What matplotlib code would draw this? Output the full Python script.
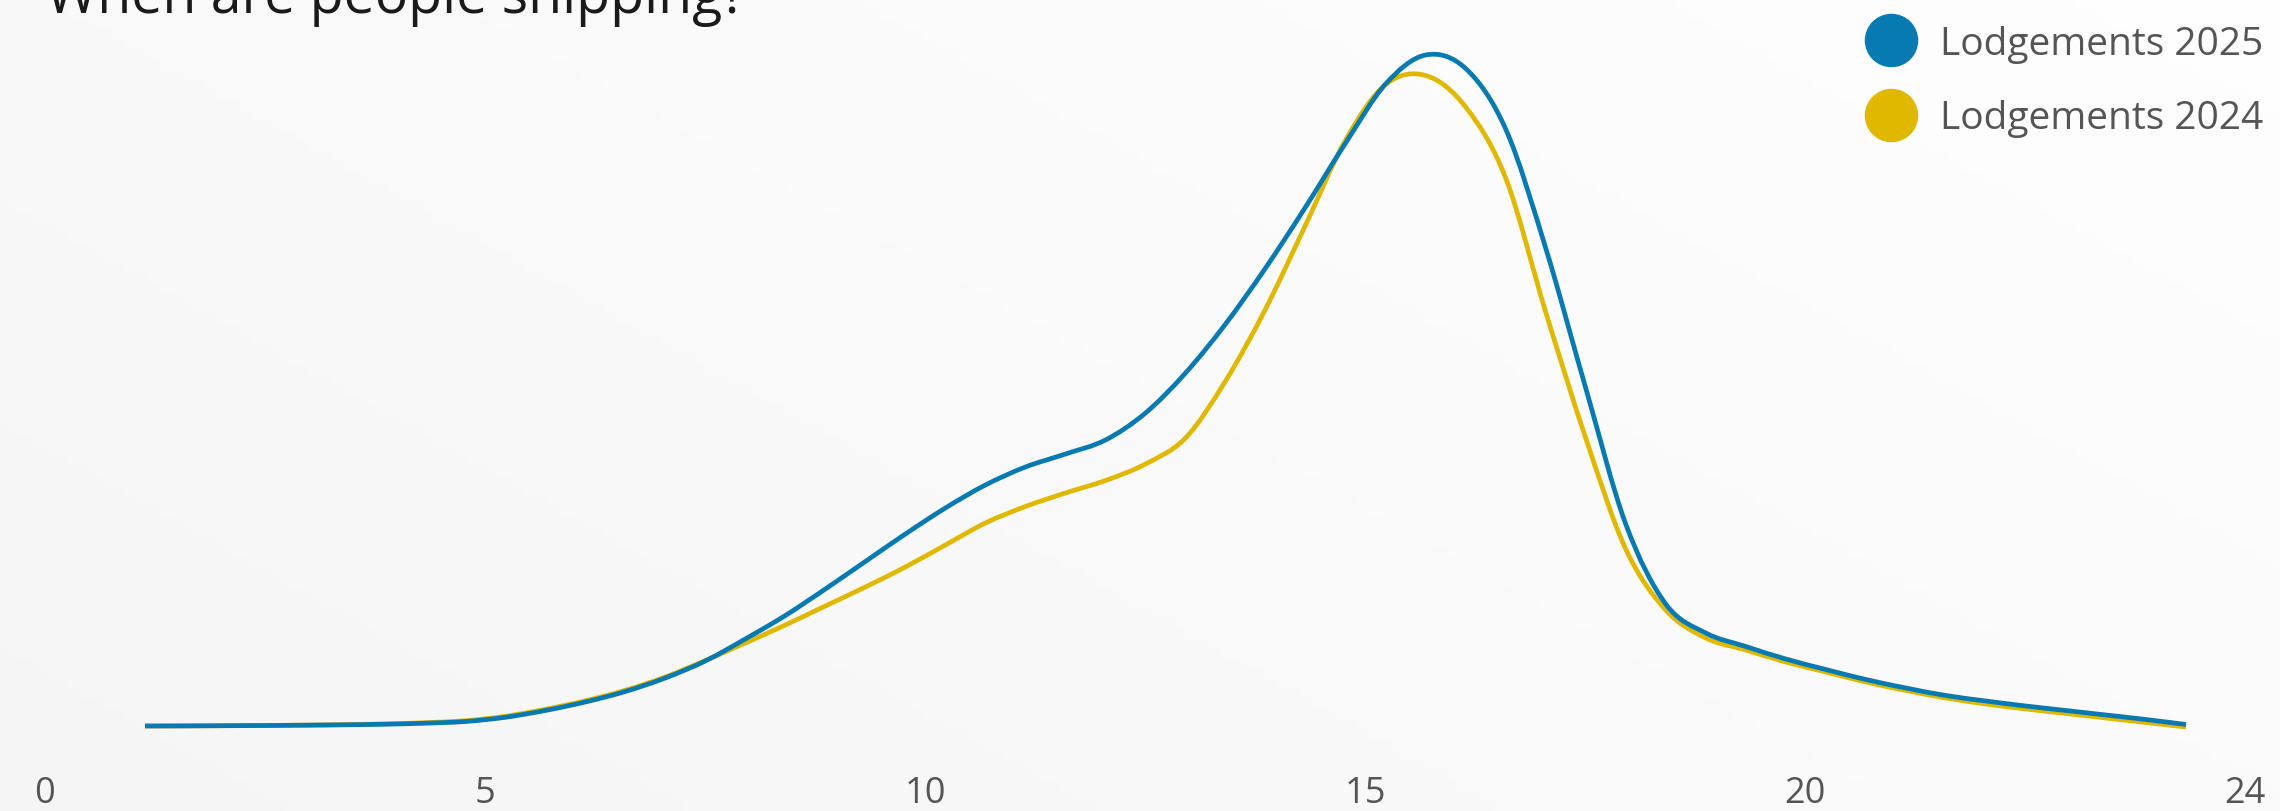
import numpy as np
import matplotlib
matplotlib.use("Agg")
import matplotlib.pyplot as plt
from matplotlib.path import Path
from matplotlib.patches import PathPatch

# Lodgement volumes (thousands) for the 52 sampling slots across the day
SLOTS = list(range(52))
LODGEMENTS_2025 = [0.30, 0.31, 0.33, 0.35, 0.38, 0.42, 0.48, 0.58, 0.75, 1.17,
                   1.85, 2.70, 3.75, 5.10, 6.80, 9.00, 11.35, 14.00, 16.75, 19.50,
                   22.10, 24.40, 26.20, 27.50, 28.90, 31.60, 35.60, 40.50, 46.10, 52.20,
                   58.60, 64.50, 67.40, 66.05, 60.00, 48.10, 34.10, 20.50, 12.50, 9.60,
                   8.25, 7.00, 5.95, 4.95, 4.10, 3.35, 2.80, 2.30, 1.85, 1.40,
                   0.95, 0.45]
LODGEMENTS_2024 = [0.30, 0.31, 0.33, 0.35, 0.39, 0.44, 0.51, 0.63, 0.83, 1.27,
                   1.97, 2.82, 3.87, 5.20, 6.85, 8.60, 10.40, 12.30, 14.20, 16.20,
                   18.40, 20.60, 22.25, 23.60, 24.85, 26.50, 29.10, 34.80, 42.00, 50.40,
                   58.90, 64.45, 65.35, 62.20, 55.10, 41.70, 29.10, 18.00, 11.90, 9.10,
                   7.90, 6.70, 5.70, 4.70, 3.85, 3.10, 2.50, 2.00, 1.55, 1.10,
                   0.65, 0.20]

SERIES_NAMES = ["Lodgements 2025", "Lodgements 2024"]
SERIES_COLORS = ["#077AB1", "#E0B800"]
TICK_LABELS = ["0", "5", "10", "15", "20", "24"]

FONT = "Open Sans"
W, H = 2280, 812


def smooth_path(xs, ys):
    """Catmull-Rom curve through the points, as cubic Bezier segments."""
    pts = np.column_stack([xs, ys]).astype(float)
    padded = np.vstack([pts[0], pts, pts[-1]])
    verts = [pts[0]]
    codes = [Path.MOVETO]
    for i in range(1, len(padded) - 2):
        p0, p1, p2, p3 = padded[i - 1], padded[i], padded[i + 1], padded[i + 2]
        verts += [p1 + (p2 - p0) / 6, p2 - (p3 - p1) / 6, p2]
        codes += [Path.CURVE4] * 3
    return Path(verts, codes)


fig = plt.figure(figsize=(W / 100, H / 100), dpi=100)

# soft grey background, darker towards the bottom left
bg = fig.add_axes([0, 0, 1, 1], zorder=-10)
gx, gy = np.meshgrid(np.linspace(0, 1, 200), np.linspace(0, 1, 80))
shade = 0.962 + 0.022 * gx + 0.014 * (1 - gy)
bg.imshow(np.dstack([shade] * 3), aspect="auto", extent=(0, 1, 0, 1), origin="upper")
bg.axis("off")

ax = fig.add_axes([145 / W, 82 / H, 2041 / W, 700 / H])
ax.set_xlim(SLOTS[0], SLOTS[-1])
ax.set_ylim(0, 70)
ax.axis("off")

for values, color, z in [(LODGEMENTS_2024, SERIES_COLORS[1], 2),
                         (LODGEMENTS_2025, SERIES_COLORS[0], 3)]:
    patch = PathPatch(smooth_path(SLOTS, values), fill=False, edgecolor=color,
                      linewidth=3.4, capstyle="butt", joinstyle="round",
                      zorder=z, clip_on=False)
    ax.add_patch(patch)

# hour labels spread evenly along the bottom edge
for x, label in zip(np.linspace(45, 2245, len(TICK_LABELS)), TICK_LABELS):
    fig.text(x / W, 1 - 803 / H, label, ha="center", va="baseline",
             fontsize=26, color="#555555", family=FONT)

# legend with round swatches
for i, (name, color) in enumerate(zip(SERIES_NAMES, SERIES_COLORS)):
    y = 1 - (41 + 75 * i) / H
    ax.plot([1891 / W], [y], marker="o", markersize=37.5, color=color,
            linestyle="none", transform=fig.transFigure, clip_on=False)
    fig.text(1940 / W, 1 - (55 + 74 * i) / H, name, ha="left", va="baseline",
             fontsize=28, color="#555555", family=FONT)

fig.text(46 / W, 1 - 13 / H, "When are people shipping?", ha="left", va="baseline",
         fontsize=40, color="#1a1a1a", family=FONT)

fig.savefig("out.png", dpi=100)
plt.close(fig)
